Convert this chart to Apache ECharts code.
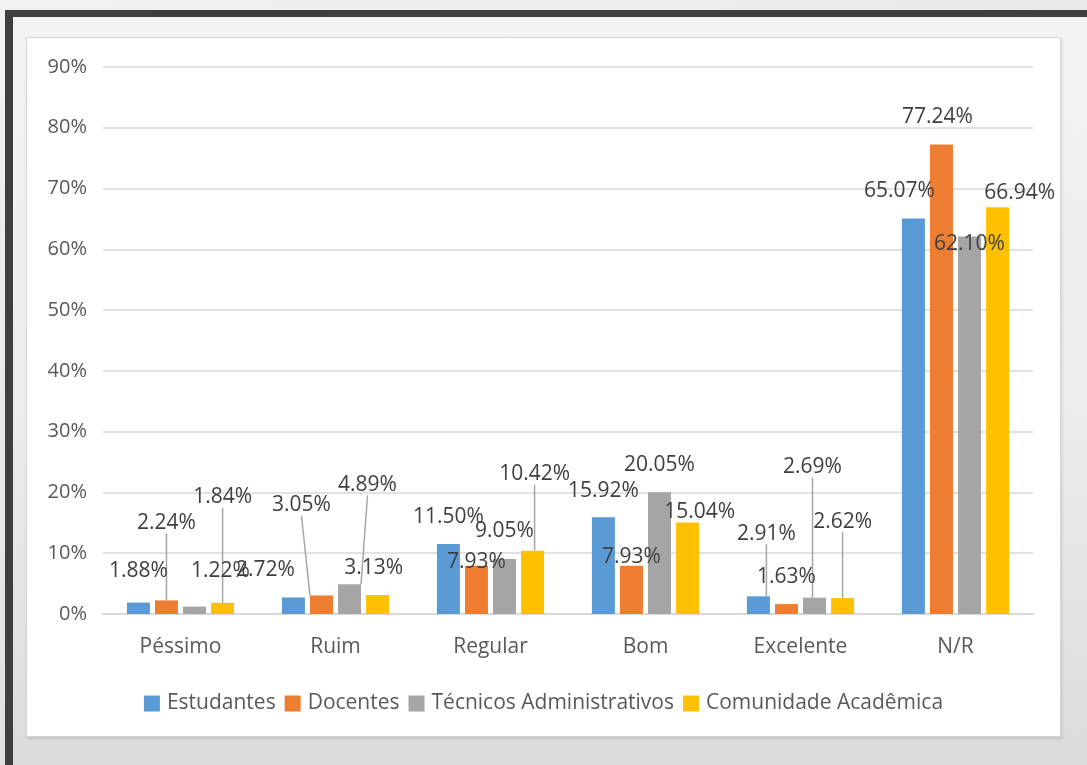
<!DOCTYPE html>
<html>
<head>
<meta charset="utf-8">
<script src="https://cdn.jsdelivr.net/npm/echarts@6/dist/echarts.min.js"></script>
<style>
  html, body { margin: 0; padding: 0; width: 1087px; height: 765px; overflow: hidden; }
  body { background: linear-gradient(160deg, #f2f2f2 0%, #e4e4e4 55%, #d4d4d4 100%); position: relative; }
  #frame {
    position: absolute; left: 5px; top: 10px; width: 1100px; height: 800px;
    border-left: 8px solid #3f3f3f; border-top: 7px solid #3f3f3f;
    background: linear-gradient(180deg, #f3f3f3 0%, #ececec 50%, #d9d9d9 100%);
  }
  #panel {
    position: absolute; left: 26px; top: 37px; width: 1033px; height: 698px;
    background: #fff; border: 1px solid #d6d6d6;
    box-shadow: 1px 2px 3px rgba(0,0,0,0.12);
  }
  #main { position: absolute; left: 0; top: 0; width: 1087px; height: 765px; }
</style>
</head>
<body>
<div id="frame"></div>
<div id="panel"></div>
<div id="main"></div>
<script>
const categories = ['Péssimo', 'Ruim', 'Regular', 'Bom', 'Excelente', 'N/R'];
const estudantes = [1.88, 2.72, 11.50, 15.92, 2.91, 65.07];
const docentes = [2.24, 3.05, 7.93, 7.93, 1.63, 77.24];
const tecnicos = [1.22, 4.89, 9.05, 20.05, 2.69, 62.10];
const comunidade = [1.84, 3.13, 10.42, 15.04, 2.62, 66.94];
const seriesNames = ['Estudantes', 'Docentes', 'Técnicos Administrativos', 'Comunidade Acadêmica'];
const colors = ['#5b9bd5', '#ed7d31', '#a5a5a5', '#ffc000'];

// where each data label was dragged to (dx, dy from the default top position)
const labelShift = [
    [[0, -16], [-28, -12], [0, -12], [0, -11], [8, -47], [-14, -12]],
    [[0, -62], [-20, -75], [0, 12], [0, 7], [0, -12], [-4, -12]],
    [[26, -20], [18, -84], [0, -12], [0, -12], [-2, -115], [0, 23]],
    [[0, -90], [-4, -11], [2, -61], [12, 5], [0, -61], [22, 1]]
];
// which labels have a leader line
const leader = [
    [0, 0, 0, 0, 1, 0],
    [1, 1, 0, 0, 0, 0],
    [0, 1, 0, 0, 1, 0],
    [1, 0, 1, 0, 1, 0]
];

const font = "'Open Sans', 'Noto Sans', sans-serif";
const chart = echarts.init(document.getElementById('main'));

const makeSeries = (values, idx) => ({
    name: seriesNames[idx],
    type: 'bar',
    barWidth: 23,
    barGap: '22%',
    itemStyle: { color: colors[idx] },
    label: {
        show: true,
        position: 'top',
        distance: 5,
        color: '#404040',
        fontSize: 21,
        fontFamily: font,
        formatter: (p) => p.value.toFixed(2) + '%'
    },
    labelLayout: (p) => ({
        dx: labelShift[idx][p.dataIndex][0],
        dy: labelShift[idx][p.dataIndex][1]
    }),
    data: values.map((v, i) => ({
        value: v,
        labelLine: {
            show: leader[idx][i] === 1,
            lineStyle: { color: '#a6a6a6', width: 1.5 }
        }
    }))
});

option = {
    animation: false,
    textStyle: { fontFamily: font },
    grid: { left: 103, right: 54, top: 67, bottom: 151 },
    legend: {
        bottom: 46,
        left: 'center',
        itemWidth: 16,
        itemHeight: 16,
        itemGap: 9,
        icon: 'rect',
        textStyle: { color: '#595959', fontSize: 21, fontFamily: font, padding: [0, 0, 0, 2] },
        data: seriesNames
    },
    xAxis: {
        type: 'category',
        data: categories,
        axisTick: { show: false },
        axisLine: { lineStyle: { color: '#d9d9d9', width: 2 } },
        axisLabel: { color: '#595959', fontSize: 21, margin: 23, fontFamily: font }
    },
    yAxis: {
        type: 'value',
        min: 0,
        max: 90,
        interval: 10,
        axisLine: { show: false },
        axisTick: { show: false },
        splitLine: { lineStyle: { color: '#d9d9d9', width: 1.5 } },
        axisLabel: { color: '#595959', fontSize: 20, margin: 16, fontFamily: font, formatter: '{value}%' }
    },
    series: [
        makeSeries(estudantes, 0),
        makeSeries(docentes, 1),
        makeSeries(tecnicos, 2),
        makeSeries(comunidade, 3)
    ]
};

chart.setOption(option);
</script>
</body>
</html>
